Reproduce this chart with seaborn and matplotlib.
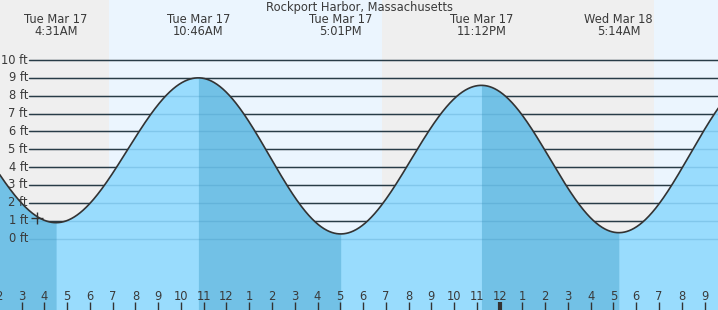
import numpy as np
import pandas as pd
import matplotlib
matplotlib.use("Agg")
import matplotlib.pyplot as plt
import seaborn as sns

# ---- data (hours since midnight Tue Mar 17) ----
title = "Rockport Harbor, Massachusetts"
# tide extremes (first/last are off-chart neighbours estimated from the curve ends)
extreme_hours = [-1.73, 4.517, 10.767, 17.017, 23.2, 29.233, 35.53]
extreme_heights = [8.8, 0.89, 9.0, 0.26, 8.58, 0.33, 9.2]
event_labels = ["", "Tue Mar 17\n4:31AM", "Tue Mar 17\n10:46AM", "Tue Mar 17\n5:01PM",
                "Tue Mar 17\n11:12PM", "Wed Mar 18\n5:14AM", ""]
# night periods (sunset -> sunrise)
night_start = [-6.0, 18.83]
night_end = [6.84, 30.80]
ft_ticks = list(range(0, 11))
hour_ticks = list(range(2, 34))
hour_labels = [str((h - 1) % 12 + 1) for h in hour_ticks]
now_hour, now_height = 3.68, 1.17

XMIN, XMAX = 2.053, 33.59
YMIN, YMAX = -4.0, 13.36

sns.set_theme(style="white")
plt.rcParams['font.family'] = ['DejaVu Sans']
TXT = "#3a3a3a"

fig = plt.figure(figsize=(7.18, 3.10), dpi=100)
ax = fig.add_axes([0, 0, 1, 1])

# backgrounds
ax.axvspan(XMIN - 5, XMAX + 5, color="#ebf5fe", zorder=0, lw=0)
for s, e in zip(night_start, night_end):
    ax.axvspan(s, e, color="#efefef", zorder=0.1, lw=0)

# curve (cosine interpolation between tide extremes)
t = np.linspace(XMIN - 0.1, XMAX + 0.1, 1500)
h = np.empty_like(t)
for i in range(len(extreme_hours) - 1):
    t0, t1 = extreme_hours[i], extreme_hours[i + 1]
    y0, y1 = extreme_heights[i], extreme_heights[i + 1]
    m = (t >= t0) & (t <= t1)
    f = (t[m] - t0) / (t1 - t0)
    h[m] = y0 + (y1 - y0) * (1 - np.cos(np.pi * f)) / 2
df = pd.DataFrame({"hour": t, "height": h})

# grid lines (dark)
x_grid0 = XMIN + 29.5 / 22.77
for v in ft_ticks:
    ax.plot([x_grid0, XMAX + 1], [v, v], color="#222222", lw=1.0, zorder=1)
    ax.text(x_grid0 - 0.07, v, f"{v} ft", ha="right", va="center",
            fontsize=8.3, color=TXT, zorder=6)

# fills: rising colour everywhere, falling segments on top
ax.fill_between(t, h, YMIN - 1, color="#99dcfd", lw=0, zorder=2)
for i in range(len(extreme_hours) - 1):
    if extreme_heights[i + 1] < extreme_heights[i]:
        m = (t >= extreme_hours[i]) & (t <= extreme_hours[i + 1])
        tt = np.concatenate([[extreme_hours[i]], t[m], [extreme_hours[i + 1]]])
        hh = np.concatenate([[extreme_heights[i]], h[m], [extreme_heights[i + 1]]])
        ax.fill_between(tt, hh, YMIN - 1, color="#72c1e6", lw=0, zorder=2.1)
# faint grid lines under water
for v in ft_ticks:
    ax.plot([x_grid0, XMAX + 1], [v, v], color="#3a8ab8", alpha=0.25, lw=1.0, zorder=3)

sns.lineplot(data=df, x="hour", y="height", ax=ax, color="#333333", lw=1.2, zorder=4,
             estimator=None, sort=False)
ax.set_xlim(XMIN, XMAX)
ax.set_ylim(YMIN, YMAX)
ax.axis("off")

# current time marker
ax.plot([now_hour], [now_height], marker="+", ms=9, mew=1.0, color="#333333", zorder=5)

# title and event labels
ax.text((XMIN + XMAX) / 2, YMAX - 0.05, title, ha="center", va="top", fontsize=8.3, color=TXT)
for x, lab in zip(extreme_hours, event_labels):
    if lab:
        ax.text(x, YMAX - 0.72, lab, ha="center", va="top", fontsize=8.3, color=TXT,
                linespacing=0.95)

# hour ticks
px = (YMAX - YMIN) / 310.0
for x, lab in zip(hour_ticks, hour_labels):
    lw = 3 if lab == "12" and x == 24 else 1.0
    ax.plot([x, x], [YMIN, YMIN + 8 * px], color="#333333", lw=lw, zorder=6,
            solid_capstyle="butt")
    ax.text(x, YMIN + 14 * px, lab, ha="center", va="center", fontsize=8.3, color=TXT, zorder=6)

fig.savefig("out.png", dpi=100)
